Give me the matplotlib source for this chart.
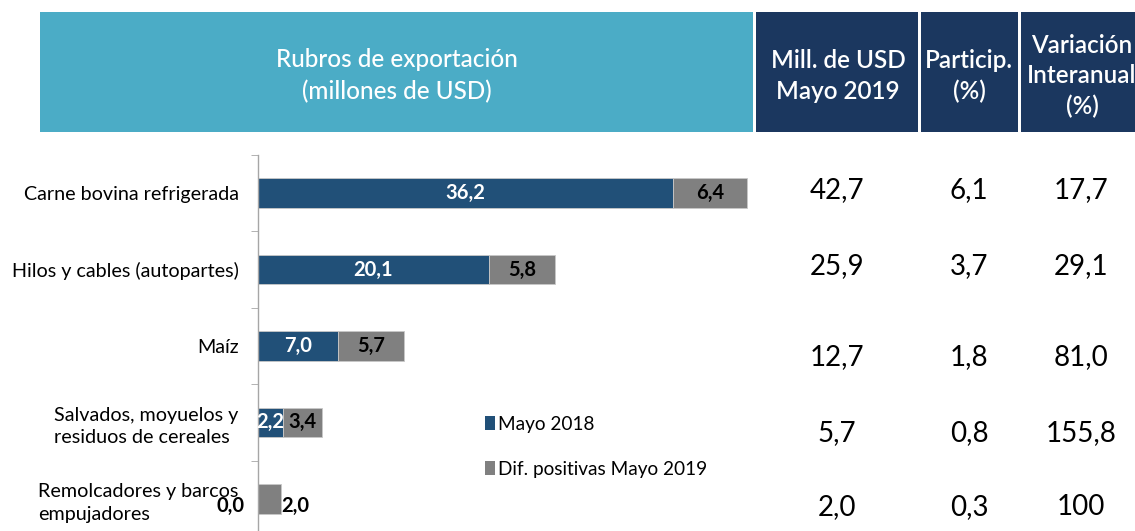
import matplotlib
matplotlib.use("Agg")
import matplotlib.pyplot as plt
from matplotlib.patches import Rectangle, Patch

# ---------------- data ----------------
categories = ["Carne bovina refrigerada",
              "Hilos y cables (autopartes)",
              "Maíz",
              "Salvados, moyuelos y\nresiduos de cereales",
              "Remolcadores y barcos\nempujadores"]
mayo_2018 = [36.2, 20.1, 7.0, 2.2, 0.0]
dif_positivas = [6.4, 5.8, 5.7, 3.4, 2.0]
mill_usd_2019 = ["42,7", "25,9", "12,7", "5,7", "2,0"]
particip = ["6,1", "3,7", "1,8", "0,8", "0,3"]
var_interanual = ["17,7", "29,1", "81,0", "155,8", "100"]
series_names = ["Mayo 2018", "Dif. positivas Mayo 2019"]
header_main = "Rubros de exportación\n(millones de USD)"
header_cols = ["Mill. de USD\nMayo 2019", "Particip.\n(%)", "Variación\nInteranual\n(%)"]

# ---------------- style ----------------
FONT = ["Lato", "DejaVu Sans"]
plt.rcParams['font.family'] = FONT
NAVY_BAR = "#215078"
GRAY_BAR = "#808080"
CYAN = "#4BACC6"
NAVY_HDR = "#1B375F"

W, H = 1135, 531
fig = plt.figure(figsize=(W / 100, H / 100), dpi=100)

def fx(x):
    return x / W

def fy(y):
    return 1 - y / H

# ---------------- header boxes ----------------
hdr_top, hdr_bot = 12, 132
fig.add_artist(Rectangle((fx(40), fy(hdr_bot)), fx(753) - fx(40), (hdr_bot - hdr_top) / H,
                         transform=fig.transFigure, facecolor=CYAN, edgecolor="none"))
fig.text(fx(397), fy(76), header_main, color="white", fontsize=17.5, fontweight="medium",
         ha="center", va="center", linespacing=1.45)

col_boxes = [(756, 918), (921, 1018), (1021, 1140)]
col_hdr_x = [838, 969, 1082]
col_hdr_y = [76, 76, 76]
for (x0, x1), cx, cy, txt in zip(col_boxes, col_hdr_x, col_hdr_y, header_cols):
    fig.add_artist(Rectangle((fx(x0), fy(hdr_bot)), fx(x1) - fx(x0), (hdr_bot - hdr_top) / H,
                             transform=fig.transFigure, facecolor=NAVY_HDR, edgecolor="none"))
    fig.text(fx(cx), fy(cy), txt, color="white", fontsize=17.5, fontweight="semibold",
             ha="center", va="center", linespacing=1.4)

# ---------------- bar chart ----------------
ax_top, ax_bot = 155, 537
ax = fig.add_axes([fx(258), fy(ax_bot), fx(258 + 45 * 11.47) - fx(258), (ax_bot - ax_top) / H])
ypos = list(range(len(categories)))
ax.barh(ypos, mayo_2018, height=0.39, color=NAVY_BAR, edgecolor="#C8C8C8", linewidth=0.6)
ax.barh(ypos, dif_positivas, left=mayo_2018, height=0.39, color=GRAY_BAR,
        edgecolor="#C8C8C8", linewidth=0.6)
ax.set_xlim(0, 45)
ax.set_ylim(len(categories) - 0.5, -0.5)

for s in ["top", "right", "bottom"]:
    ax.spines[s].set_visible(False)
ax.spines["left"].set_color("#A6A6A6")
ax.spines["left"].set_linewidth(1.0)
ax.set_xticks([])
ax.set_yticks(ypos, labels=categories)
ax.tick_params(axis="y", length=0, pad=14, labelsize=14.2)
for lab in ax.get_yticklabels():
    lab.set_multialignment("left")
    lab.set_linespacing(1.4)
ax.set_yticks([i - 0.5 for i in range(len(categories) + 1)], minor=True)
ax.tick_params(axis="y", which="minor", length=5, color="#A6A6A6", direction="out")

def fmt(v):
    return f"{v:.1f}".replace(".", ",")

LBL = 14.5
for i, (a, d) in enumerate(zip(mayo_2018, dif_positivas)):
    if a > 0:
        ax.text(a / 2, i, fmt(a), color="white", fontsize=LBL, fontweight="bold",
                ha="center", va="center")
        ax.text(a + d / 2, i, fmt(d), color="black", fontsize=LBL, fontweight="bold",
                ha="center", va="center")
    else:
        ax.annotate(fmt(a), (0, i), xytext=(-10, -5), textcoords="offset points",
                    color="black", fontsize=LBL, fontweight="bold", ha="right", va="center")
        ax.annotate(fmt(d), (a + d, i), xytext=(0.5, -5), textcoords="offset points",
                    color="black", fontsize=LBL, fontweight="bold", ha="left", va="center")

# legend
handles = [Patch(facecolor=NAVY_BAR, edgecolor="none"), Patch(facecolor=GRAY_BAR, edgecolor="none")]
fig.legend(handles, series_names, loc="upper left", bbox_to_anchor=(fx(485), fy(416)),
           frameon=False, fontsize=13.7, handlelength=0.55, handleheight=0.75,
           handletextpad=0.15, labelspacing=1.45, borderaxespad=0, borderpad=0)

# ---------------- table values ----------------
row_y = [190, 266, 357, 433, 507]
col_x = [837, 969, 1081]
for col, vals in zip(col_x, [mill_usd_2019, particip, var_interanual]):
    for y, v in zip(row_y, vals):
        fig.text(fx(col), fy(y), v, fontsize=20, ha="center", va="center", color="black")

fig.savefig("out.png", dpi=100)
